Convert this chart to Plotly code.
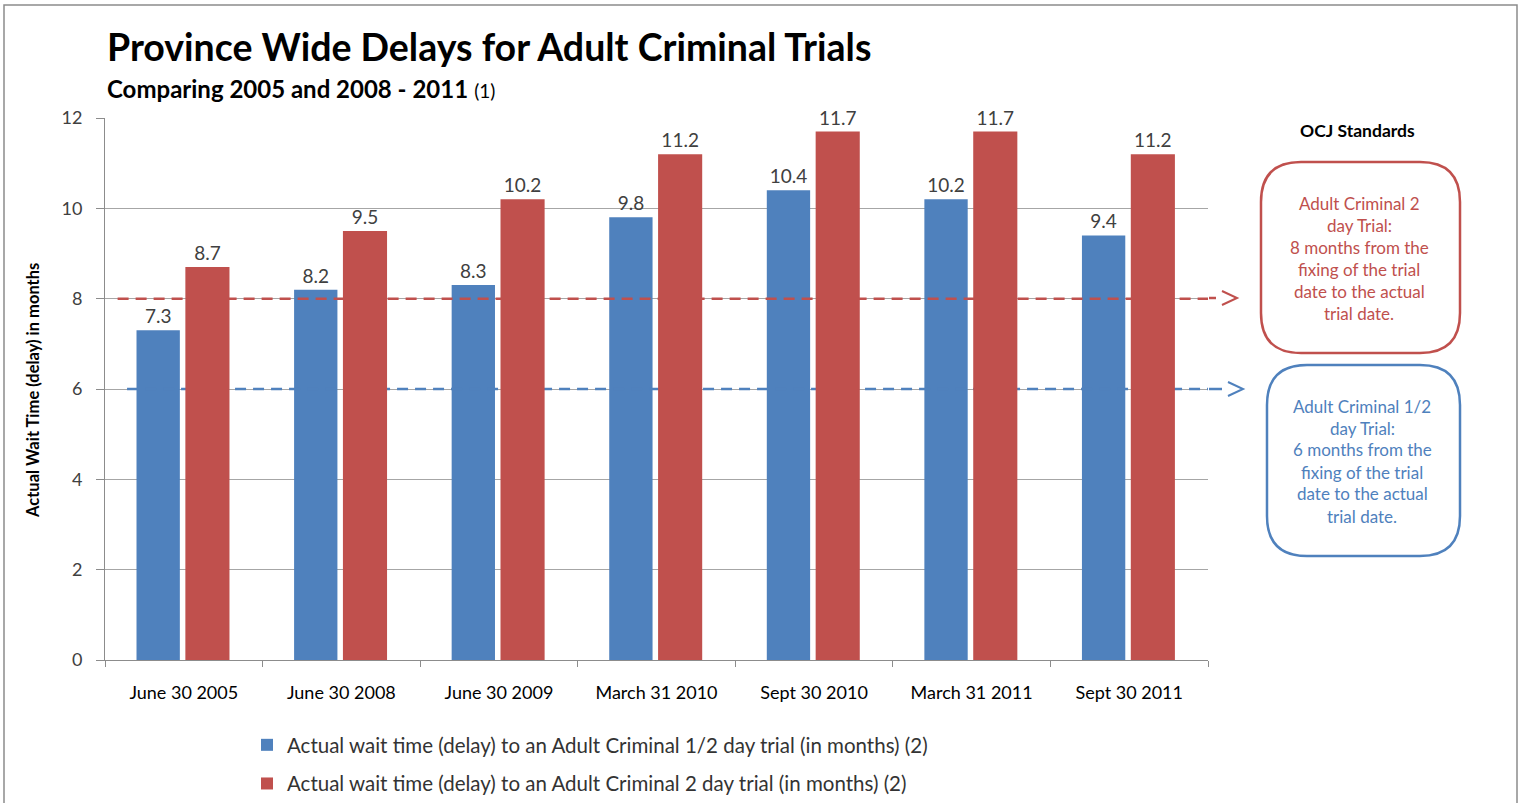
import plotly.graph_objects as go

# ---------------- data ----------------
categories = ["June 30 2005", "June 30 2008", "June 30 2009", "March 31 2010",
              "Sept 30 2010", "March 31 2011", "Sept 30 2011"]
half_day = [7.3, 8.2, 8.3, 9.8, 10.4, 10.2, 9.4]
two_day = [8.7, 9.5, 10.2, 11.2, 11.7, 11.7, 11.2]
standard_half_day = 6
standard_two_day = 8
series_names = [
    "Actual wait time (delay) to an Adult Criminal 1/2 day trial (in months) (2)",
    "Actual wait time (delay) to an Adult Criminal 2 day trial (in months) (2)",
]
y_ticks = [0, 2, 4, 6, 8, 10, 12]

BLUE = "#4F81BD"
RED = "#C0504D"
FONT = "Lato"

W, H = 1522, 803
L, R, T, B = 105, 1208, 118, 660


def px(X):
    return (X - L) / (R - L)


def py(Y):
    return (B - Y) / (B - T)


def rrect(x0, y0, x1, y1, r):
    pts = [
        ("M", [(x0 + r, y0)]),
        ("L", [(x1 - r, y0)]),
        ("Q", [(x1, y0), (x1, y0 + r)]),
        ("L", [(x1, y1 - r)]),
        ("Q", [(x1, y1), (x1 - r, y1)]),
        ("L", [(x0 + r, y1)]),
        ("Q", [(x0, y1), (x0, y1 - r)]),
        ("L", [(x0, y0 + r)]),
        ("Q", [(x0, y0), (x0 + r, y0)]),
    ]
    s = ""
    for cmd, ps in pts:
        s += cmd + " " + " ".join(f"{px(a):.5f},{py(b):.5f}" for a, b in ps) + " "
    return s + "Z"


fig = go.Figure()

# blue bars (bottom layer)
fig.add_trace(go.Bar(
    x=categories, y=half_day, name=series_names[0],
    marker=dict(color=BLUE, line=dict(width=0)),
    offset=-0.30, width=0.275,
    texttemplate="%{y}", textposition="outside", cliponaxis=False,
    constraintext="none",
    textfont=dict(family=FONT, size=19, color="#404040"),
    legendgroup="a", xaxis="x", yaxis="y",
))

# standard dashed lines (middle layer)
x_start = [-0.36, -0.42]
x_end = [6.5, 6.5]
for val, col, xs, xe in [(standard_half_day, BLUE, x_start[0], x_end[0]),
                         (standard_two_day, RED, x_start[1], x_end[1])]:
    fig.add_trace(go.Scatter(
        x=[xs, xe], y=[val, val], mode="lines",
        line=dict(color=col, width=2.5, dash="11px,7px"),
        showlegend=False, hoverinfo="skip", xaxis="x2", yaxis="y2",
    ))

# red bars (top layer)
fig.add_trace(go.Bar(
    x=categories, y=two_day, name=series_names[1],
    marker=dict(color=RED, line=dict(width=0)),
    offset=0.01, width=0.28,
    texttemplate="%{y}", textposition="outside", cliponaxis=False,
    constraintext="none",
    textfont=dict(family=FONT, size=19, color="#404040"),
    legendgroup="b", xaxis="x3", yaxis="y3",
))

axis_grey = "#8C8C8C"
fig.update_layout(
    width=W, height=H,
    margin=dict(l=L, r=W - R, t=T, b=H - B, autoexpand=False),
    paper_bgcolor="white", plot_bgcolor="white",
    font=dict(family=FONT, color="#000"),
    xaxis=dict(
        type="category", categoryorder="array", categoryarray=categories,
        range=[-0.5, 6.5], tickson="boundaries", ticks="outside", ticklen=6,
        tickcolor=axis_grey, showline=True, linecolor=axis_grey, linewidth=1,
        showgrid=False, ticklabelstandoff=16,
        tickfont=dict(family=FONT, size=18, color="#000"),
    ),
    yaxis=dict(
        range=[0, 12], tickvals=y_ticks, ticks="outside", ticklen=8,
        tickcolor=axis_grey, showline=True, linecolor=axis_grey, linewidth=1,
        showgrid=True, gridcolor="#A6A6A6", gridwidth=1, zeroline=False,
        tickfont=dict(family=FONT, size=18, color="#404040"),
        ticklabelstandoff=10,
    ),
    xaxis2=dict(overlaying="x", anchor="y2", type="linear", range=[-0.5, 6.5],
                visible=False),
    yaxis2=dict(overlaying="y", anchor="x2", range=[0, 12], visible=False),
    xaxis3=dict(overlaying="x", anchor="y3", type="category",
                categoryorder="array", categoryarray=categories,
                range=[-0.5, 6.5], visible=False),
    yaxis3=dict(overlaying="y", anchor="x3", range=[0, 12], visible=False),
    showlegend=True,
    legend=dict(
        x=px(247), y=py(725), xanchor="left", yanchor="top",
        orientation="v", traceorder="grouped", tracegroupgap=9,
        itemwidth=30,
        font=dict(family=FONT, size=20.5, color="#333"),
        bgcolor="rgba(0,0,0,0)",
    ),
)

shapes = []
# outer frame
shapes.append(dict(type="rect", xref="paper", yref="paper",
                   x0=px(4), x1=px(1517), y0=py(5), y1=py(806),
                   line=dict(color="#8C8C8C", width=1.5), layer="below"))
# short dash continuations and arrow chevrons
for yy, col, xa in [(298, RED, 1222), (389, BLUE, 1228)]:
    shapes.append(dict(type="line", xref="paper", yref="paper",
                       x0=px(1209), x1=px(xa - 6), y0=py(yy), y1=py(yy),
                       line=dict(color=col, width=2.5)))
    shapes.append(dict(type="path", xref="paper", yref="paper",
                       path=f"M {px(xa):.5f},{py(yy-7):.5f} L {px(xa+15):.5f},{py(yy):.5f} L {px(xa):.5f},{py(yy+7):.5f}",
                       line=dict(color=col, width=2)))
# rounded boxes
shapes.append(dict(type="path", xref="paper", yref="paper",
                   path=rrect(1261, 162, 1460, 353, 40),
                   line=dict(color=RED, width=2.5)))
shapes.append(dict(type="path", xref="paper", yref="paper",
                   path=rrect(1267, 365, 1460, 556, 40),
                   line=dict(color=BLUE, width=2.5)))
fig.update_layout(shapes=shapes)

ann = []
ann.append(dict(text="<b>Province Wide Delays for Adult Criminal Trials</b>",
                x=px(105), y=py(46), xref="paper", yref="paper",
                xanchor="left", yanchor="middle", showarrow=False,
                font=dict(family=FONT, size=37.5, color="#000")))
ann.append(dict(text="<b>Comparing 2005 and 2008 - 2011</b> <span style='font-size:19px'>(1)</span>",
                x=px(105), y=py(88), xref="paper", yref="paper",
                xanchor="left", yanchor="middle", showarrow=False,
                font=dict(family=FONT, size=24, color="#000")))
ann.append(dict(text="<b>Actual Wait Time (delay) in months</b>",
                x=px(33), y=py(391), xref="paper", yref="paper",
                xanchor="center", yanchor="middle", showarrow=False,
                textangle=-90, font=dict(family=FONT, size=16.5, color="#000")))
ann.append(dict(text="<b>OCJ Standards</b>",
                x=px(1357), y=py(130), xref="paper", yref="paper",
                xanchor="center", yanchor="middle", showarrow=False,
                font=dict(family=FONT, size=17.5, color="#000")))
red_lines = ["Adult Criminal 2", "day Trial:", "8 months from the",
             "fixing of the trial", "date to the actual", "trial date."]
blue_lines = ["Adult Criminal 1/2", "day Trial:", "6 months from the",
              "fixing of the trial", "date to the actual", "trial date."]
for i, t in enumerate(red_lines):
    ann.append(dict(text=t, x=px(1359), y=py(203 + i * 22), xref="paper", yref="paper",
                    xanchor="center", yanchor="middle", showarrow=False,
                    font=dict(family=FONT, size=17, color=RED)))
for i, t in enumerate(blue_lines):
    ann.append(dict(text=t, x=px(1362), y=py(406 + i * 22), xref="paper", yref="paper",
                    xanchor="center", yanchor="middle", showarrow=False,
                    font=dict(family=FONT, size=17, color=BLUE)))
fig.update_layout(annotations=ann)

fig.write_html(
    "out.html",
    config={"displayModeBar": False},
    post_script="document.body.style.margin='0px';document.body.style.overflow='hidden';",
)
